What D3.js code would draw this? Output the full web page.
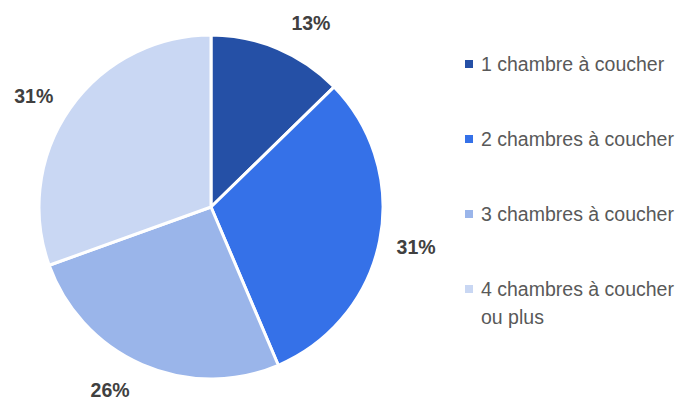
<!DOCTYPE html>
<html lang="fr">
<head>
<meta charset="UTF-8">
<title>Chambres à coucher</title>
<script src="https://cdn.jsdelivr.net/npm/d3@7"></script>
<style>
  html, body { margin: 0; padding: 0; background: #fff; }
  text { font-family: "Liberation Sans", Arial, sans-serif; }
</style>
</head>
<body>
<svg id="chart" width="677" height="402"></svg>
<script>
// data
const categories = ["1 chambre à coucher", "2 chambres à coucher", "3 chambres à coucher", "4 chambres à coucher ou plus"];
const shares = [12.7, 30.9, 25.9, 30.5];
const colors = ["#2550a6", "#3571e8", "#9ab5ea", "#c9d7f3"];

// small angular tweaks (degrees) so labels sit where the original tool placed them
const labelNudge = [5.7, -0.3, 5.3, -3.1];

const svg = d3.select("#chart");
const cx = 211, cy = 207, radius = 172, labelR = 209;

const pie = d3.pie().sort(null).value(d => d);
const arcs = pie(shares);
const arc = d3.arc().innerRadius(0).outerRadius(radius);

const g = svg.append("g").attr("transform", `translate(${cx},${cy})`);

g.selectAll("path")
  .data(arcs)
  .join("path")
  .attr("d", arc)
  .attr("fill", (d, i) => colors[i])
  .attr("stroke", "#fff")
  .attr("stroke-width", 3)
  .attr("stroke-linejoin", "round");

g.selectAll("text.lbl")
  .data(arcs)
  .join("text")
  .attr("class", "lbl")
  .attr("x", (d, i) => {
    const a = (d.startAngle + d.endAngle) / 2 + labelNudge[i] * Math.PI / 180;
    return Math.sin(a) * labelR;
  })
  .attr("y", (d, i) => {
    const a = (d.startAngle + d.endAngle) / 2 + labelNudge[i] * Math.PI / 180;
    return -Math.cos(a) * labelR;
  })
  .attr("dy", "0.35em")
  .attr("text-anchor", "middle")
  .attr("font-size", 19.5)
  .attr("font-weight", "bold")
  .attr("fill", "#404040")
  .text(d => Math.round(d.value) + "%");

// legend
const legend = svg.append("g").attr("transform", "translate(465,0)");
const rowY = d3.scalePoint().domain(d3.range(categories.length)).range([64, 289]);

const rows = legend.selectAll("g")
  .data(categories)
  .join("g")
  .attr("transform", (d, i) => `translate(0,${rowY(i)})`);

rows.append("rect")
  .attr("x", 0).attr("y", -4)
  .attr("width", 8).attr("height", 8)
  .attr("fill", (d, i) => colors[i]);

rows.append("text")
  .attr("x", 16)
  .attr("font-size", 19.5)
  .attr("fill", "#595959")
  .each(function (d) {
    // wrap long entry the way the original legend does
    const lines = d.length > 22 ? [d.replace(/ ou plus$/, ""), "ou plus"] : [d];
    d3.select(this).selectAll("tspan")
      .data(lines)
      .join("tspan")
      .attr("x", 16)
      .attr("dy", (l, k) => k === 0 ? "0.35em" : 28)
      .text(l => l);
  });
</script>
</body>
</html>
